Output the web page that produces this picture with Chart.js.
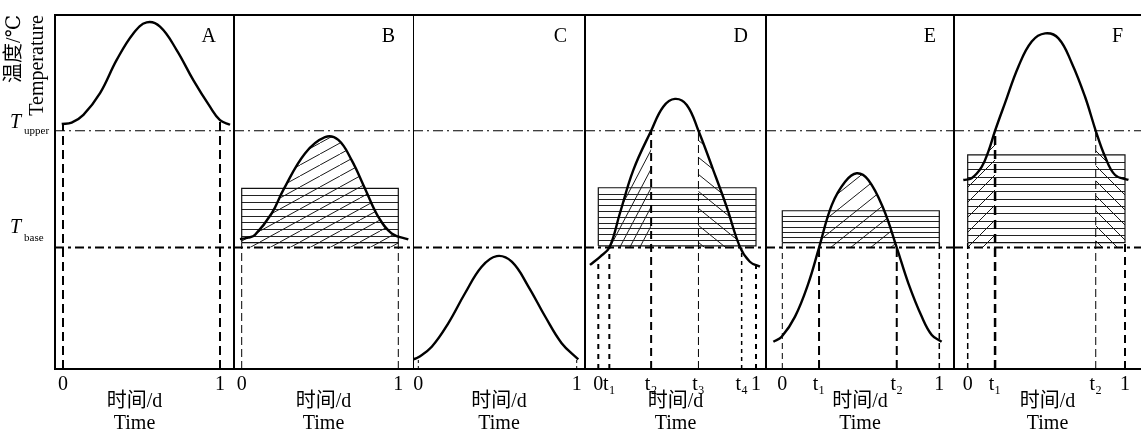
<!DOCTYPE html>
<html lang="zh">
<head>
<meta charset="utf-8">
<title>Temperature schematic</title>
<script src="https://cdn.jsdelivr.net/npm/chart.js@4.4.1/dist/chart.umd.min.js"></script>
<style>
html,body{margin:0;padding:0;background:#fff;}
#wrap{position:relative;width:1141px;height:436px;overflow:hidden;background:#fff;}
#wrap canvas{position:absolute;left:0;top:0;}
</style>
</head>
<body>
<div id="wrap"></div>
<script>
// ===================== DATA =====================
const panelLetters = ['A', 'B', 'C', 'D', 'E', 'F'];
const T_UPPER = 67.3;
const T_BASE = 34.3;
const Y_MIN = 0, Y_MAX = 100;

// diurnal temperature curves (time in days, temperature in arbitrary units)
const timeA = [-0.008, 0.055, 0.13, 0.236, 0.342, 0.448, 0.533, 0.618, 0.724, 0.83, 0.936, 1.0, 1.064];
const tempA = [69.2, 69.6, 71.8, 77.9, 87.3, 94.8, 97.9, 96.7, 90.1, 81.6, 74.1, 70.3, 69.0];
const timeB = [-0.011, 0.042, 0.085, 0.192, 0.266, 0.404, 0.532, 0.617, 0.702, 0.787, 0.872, 0.958, 1.064];
const tempB = [36.7, 37.1, 37.9, 44.0, 50.6, 60.9, 65.5, 64.7, 59.0, 51.0, 43.0, 38.3, 36.6];
const timeC = [-0.032, 0, 0.085, 0.189, 0.295, 0.4, 0.495, 0.59, 0.695, 0.8, 0.905, 1.01];
const tempC = [2.7, 3.3, 6.3, 12.9, 21.4, 28.9, 31.9, 30.3, 23.3, 14.9, 7.3, 2.7];
const timeD = [-0.053, 0.011, 0.07, 0.137, 0.222, 0.335, 0.412, 0.486, 0.561, 0.635, 0.729, 0.814, 0.898, 0.961, 1.025];
const tempD = [29.4, 31.7, 34.3, 44.0, 56.2, 67.3, 74.1, 76.3, 74.6, 67.3, 56.2, 45.8, 34.5, 30.3, 28.9];
const timeE = [-0.057, -0.004, 0.081, 0.166, 0.234, 0.315, 0.4, 0.474, 0.548, 0.643, 0.729, 0.803, 0.888, 0.952, 1.015];
const tempE = [7.7, 9.1, 14.8, 24.2, 34.3, 46.3, 52.9, 55.3, 53.4, 45.4, 34.3, 24.2, 14.8, 9.6, 7.7];
const timeF = [-0.028, 0.025, 0.089, 0.131, 0.174, 0.237, 0.322, 0.407, 0.492, 0.577, 0.662, 0.746, 0.814, 0.873, 0.937, 1.022];
const tempF = [53.4, 53.9, 57.1, 61.4, 67.3, 75.1, 85.4, 92.5, 94.8, 93.4, 86.4, 76.9, 67.3, 60.0, 54.8, 53.4];

// x tick values and labels
const ticksA = [0, 1];                              const tickLabelsA = ['0', '1'];
const ticksB = [0, 1];                              const tickLabelsB = ['0', '1'];
const ticksC = [0, 1];                              const tickLabelsC = ['0', '1'];
const ticksD = [0, 0.07, 0.335, 0.635, 0.909, 1];   const tickLabelsD = ['0', 't\u2081', 't\u2082', 't\u2083', 't\u2084', '1'];
const ticksE = [0, 0.234, 0.729, 1];                const tickLabelsE = ['0', 't\u2081', 't\u2082', '1'];
const ticksF = [0, 0.174, 0.814, 1];                const tickLabelsF = ['0', 't\u2081', 't\u2082', '1'];

// upper end of each vertical dashed marker (one per tick)
const markerTopA = [69.4, 70.3];
const markerTopB = [35.7, 35.7];
const markerTopC = [3.3, 2.9];
const markerTopD = [31.0, 34.3, 67.3, 67.3, 34.3, 30.0];
const markerTopE = [35.7, 34.3, 34.3, 35.7];
const markerTopF = [35.7, 67.3, 67.3, 35.7];

// horizontally striped rectangles (t from 0 to 1)
const rectTop    = [null, 51.0, null, 51.2, 44.7, 60.5];
const rectBottom = [null, 35.7, null, 34.8, 35.7, 35.7];

// hatched (diagonal) time ranges
const hatchA = [];
const hatchB = [[0, 1]];
const hatchC = [];
const hatchD = [[0.07, 0.335], [0.635, 0.909]];
const hatchE = [[0.234, 0.729]];
const hatchF = [[0, 0.174], [0.814, 1]];

// ===================== LAYOUT / STYLE =====================
const W = 1141, H = 436;
const SERIF = "'Liberation Serif','DejaVu Serif','Noto Sans CJK SC',serif";
const panelLeft  = [55, 234, 413, 585, 766, 954];
const panelRight = [234, 413, 585, 766, 954, 1141];
const tick0Px = [63, 241.7, 418.3, 598.3, 782.3, 967.7];
const tick1Px = [220, 398.3, 576.7, 756, 939.3, 1125];
const dividerW = [2, 2, 1, 2, 2, 2];
const stripeCount = [0, 8, 0, 10, 6, 12];
const xTitleText = [['时间/d    ', 'Time    '], ['时间/d', 'Time'], ['时间/d', 'Time'], ['时间/d', 'Time'], ['时间/d', 'Time'], ['时间/d', 'Time']];
const markerStyle = [
  [[2, [9, 5]], [2, [9, 5]]],
  [[1, [8, 4]], [1, [8, 4]]],
  [[1, [3, 3]], [1, [3, 3]]],
  [[2, [5, 5]], [2, [5, 5]], [2, [8, 5]], [1, [8, 4]], [1.5, [4, 4]], [2, [5, 5]]],
  [[1, [6, 4]], [2, [9, 5]], [2, [9, 5]], [1.5, [6, 4]]],
  [[1.5, [6, 4]], [2.5, [9, 5]], [1, [8, 4]], [2, [8, 5]]]
];
const hatchStyle = [
  [],
  [['/', 20, 11]],
  [],
  [['/', 10, 19], ['\\', 21, 17]],
  [['/', 20, 16]],
  [['/', 15, 15], ['\\', 15, 15]]
];

const panels = [
  {time: timeA, temp: tempA, ticks: ticksA, labels: tickLabelsA, mtop: markerTopA, hatch: hatchA},
  {time: timeB, temp: tempB, ticks: ticksB, labels: tickLabelsB, mtop: markerTopB, hatch: hatchB},
  {time: timeC, temp: tempC, ticks: ticksC, labels: tickLabelsC, mtop: markerTopC, hatch: hatchC},
  {time: timeD, temp: tempD, ticks: ticksD, labels: tickLabelsD, mtop: markerTopD, hatch: hatchD},
  {time: timeE, temp: tempE, ticks: ticksE, labels: tickLabelsE, mtop: markerTopE, hatch: hatchE},
  {time: timeF, temp: tempF, ticks: ticksF, labels: tickLabelsF, mtop: markerTopF, hatch: hatchF}
];

function makePattern(ctx, spec) {
  const dir = spec[0], w = spec[1], h = spec[2];
  const c = document.createElement('canvas');
  c.width = w; c.height = h;
  const g = c.getContext('2d');
  g.strokeStyle = '#1a1a1a';
  g.lineWidth = 1;
  g.beginPath();
  const seg = (a, b, cc, d) => { g.moveTo(a, b); g.lineTo(cc, d); };
  if (dir === '/') { seg(0, h, w, 0); seg(-w, h, 0, 0); seg(w, h, 2 * w, 0); }
  else { seg(0, 0, w, h); seg(-w, 0, 0, h); seg(w, 0, 2 * w, h); }
  g.stroke();
  return ctx.createPattern(c, 'repeat');
}

function makePlugin(pi) {
  const P = panels[pi];
  return {
    id: 'panelDeco' + pi,
    beforeDatasetsDraw(chart) {
      const ctx = chart.ctx, xs = chart.scales.x, ys = chart.scales.y;
      const yU = ys.getPixelForValue(T_UPPER), yB = ys.getPixelForValue(T_BASE);
      // stripes inside rectangle
      if (rectTop[pi] !== null) {
        const xl = xs.getPixelForValue(0), xr = xs.getPixelForValue(1);
        const n = stripeCount[pi];
        ctx.save();
        ctx.strokeStyle = '#222';
        ctx.lineWidth = 1;
        for (let k = 1; k < n; k++) {
          const v = rectBottom[pi] + (rectTop[pi] - rectBottom[pi]) * k / n;
          const y = Math.round(ys.getPixelForValue(v)) + 0.5;
          ctx.beginPath(); ctx.moveTo(xl, y); ctx.lineTo(xr, y); ctx.stroke();
        }
        ctx.restore();
      }
      // diagonal hatching under the curve
      if (P.hatch.length) {
        const meta = chart.getDatasetMeta(0);
        if (meta.dataset && typeof meta.dataset.updateControlPoints === 'function') {
          meta.dataset.updateControlPoints(chart.chartArea, 'x');
        }
        const pts = meta.data;
        P.hatch.forEach((r, k) => {
          const xa = xs.getPixelForValue(r[0]), xb = xs.getPixelForValue(r[1]);
          ctx.save();
          ctx.beginPath();
          ctx.rect(xa, yU, xb - xa, yB - yU);
          ctx.clip();
          ctx.beginPath();
          ctx.moveTo(pts[0].x, pts[0].y);
          for (let i = 1; i < pts.length; i++) {
            const p = pts[i - 1], q = pts[i];
            if (p.cp2x !== undefined && q.cp1x !== undefined) {
              ctx.bezierCurveTo(p.cp2x, p.cp2y, q.cp1x, q.cp1y, q.x, q.y);
            } else {
              ctx.lineTo(q.x, q.y);
            }
          }
          ctx.lineTo(pts[pts.length - 1].x, yB + 2);
          ctx.lineTo(pts[0].x, yB + 2);
          ctx.closePath();
          ctx.fillStyle = makePattern(ctx, hatchStyle[pi][k]);
          ctx.fill();
          ctx.restore();
        });
      }
    },
    afterDraw(chart) {
      const ctx = chart.ctx, area = chart.chartArea, ys = chart.scales.y;
      ctx.save();
      ctx.fillStyle = '#000';
      ctx.textBaseline = 'alphabetic';
      ctx.textAlign = 'right';
      ctx.font = '20px ' + SERIF;
      ctx.fillText(panelLetters[pi], area.right - 18, area.top + 27);
      if (pi === 0) {
        const yU = ys.getPixelForValue(T_UPPER), yB = ys.getPixelForValue(T_BASE);
        ctx.textAlign = 'left';
        ctx.font = 'italic 20px ' + SERIF;
        ctx.fillText('T', 10, yU - 3);
        ctx.fillText('T', 10, yB - 15);
        ctx.font = '11px ' + SERIF;
        ctx.fillText('upper', 24, yU + 3);
        ctx.fillText('base', 24, yB - 7);
      }
      ctx.restore();
    }
  };
}

const wrap = document.getElementById('wrap');

panels.forEach((P, pi) => {
  const canvas = document.createElement('canvas');
  canvas.width = W; canvas.height = H;
  canvas.style.width = W + 'px'; canvas.style.height = H + 'px';
  wrap.appendChild(canvas);

  const L = panelLeft[pi], R = panelRight[pi];
  const span = tick1Px[pi] - tick0Px[pi];
  const xmin = -(tick0Px[pi] - L) / span;
  const xmax = 1 + (R - tick1Px[pi]) / span;
  const yAxisW = pi === 0 ? 55 : 10;

  const datasets = [];
  datasets.push({
    data: P.time.map((t, i) => ({x: t, y: P.temp[i]})),
    borderColor: '#000', borderWidth: 2.4, pointRadius: 0,
    tension: 0.4
  });
  datasets.push({
    data: [{x: xmin, y: T_UPPER}, {x: xmax, y: T_UPPER}],
    borderColor: '#000', borderWidth: 1.2, borderDash: [10, 4, 2, 4], pointRadius: 0
  });
  datasets.push({
    data: [{x: xmin, y: T_BASE}, {x: xmax, y: T_BASE}],
    borderColor: '#000', borderWidth: 2, borderDash: [9, 4, 3, 4], pointRadius: 0
  });
  P.ticks.forEach((t, i) => {
    datasets.push({
      data: [{x: t, y: Y_MIN}, {x: t, y: P.mtop[i]}],
      borderColor: '#000', borderWidth: markerStyle[pi][i][0],
      borderDash: markerStyle[pi][i][1], pointRadius: 0
    });
  });
  if (rectTop[pi] !== null) {
    const tp = rectTop[pi], bt = rectBottom[pi];
    datasets.push({
      data: [{x: 0, y: bt}, {x: 0, y: tp}, {x: 1, y: tp}, {x: 1, y: bt}, {x: 0, y: bt}],
      borderColor: '#111', borderWidth: 1.2, pointRadius: 0
    });
  }

  new Chart(canvas, {
    type: 'line',
    data: {datasets},
    plugins: [makePlugin(pi)],
    options: {
      responsive: false,
      devicePixelRatio: 1,
      animation: false,
      events: [],
      layout: {padding: {left: pi === 0 ? 0 : L - yAxisW, right: W - R, top: 15, bottom: 0}},
      plugins: {legend: {display: false}, tooltip: {enabled: false}},
      scales: {
        x: {
          type: 'linear', position: 'bottom', min: xmin, max: xmax,
          grid: {display: false, drawTicks: false},
          border: {display: true, width: 2, color: '#000'},
          afterBuildTicks: (axis) => { axis.ticks = P.ticks.map(v => ({value: v})); },
          afterFit: (axis) => { axis.height = 67; },
          ticks: {
            autoSkip: false, maxRotation: 0, minRotation: 0, padding: 2, color: '#000',
            font: {family: SERIF, size: 20, lineHeight: 1.4},
            callback: (value, index) => P.labels[index]
          },
          title: {
            display: true, text: xTitleText[pi], color: '#000',
            font: {family: SERIF, size: 20, lineHeight: 1.1},
            padding: {top: 0, bottom: 1}
          }
        },
        xt: {
          type: 'linear', position: 'top', min: xmin, max: xmax,
          grid: {display: false, drawTicks: false},
          border: {display: true, width: 2, color: '#000'},
          ticks: {display: false},
          afterFit: (axis) => { axis.height = 0; }
        },
        y: {
          type: 'linear', position: 'left', min: Y_MIN, max: Y_MAX,
          grid: {display: false, drawTicks: false},
          border: {display: true, width: dividerW[pi], color: '#000'},
          ticks: {display: false},
          afterFit: (axis) => { axis.width = yAxisW; },
          title: {
            display: pi === 0, text: ['温度/℃', 'Temperature'], align: 'end', color: '#000',
            font: {family: SERIF, size: 20, lineHeight: 1.15},
            padding: {top: 3, bottom: 0}
          }
        }
      }
    }
  });
});
</script>
</body>
</html>
